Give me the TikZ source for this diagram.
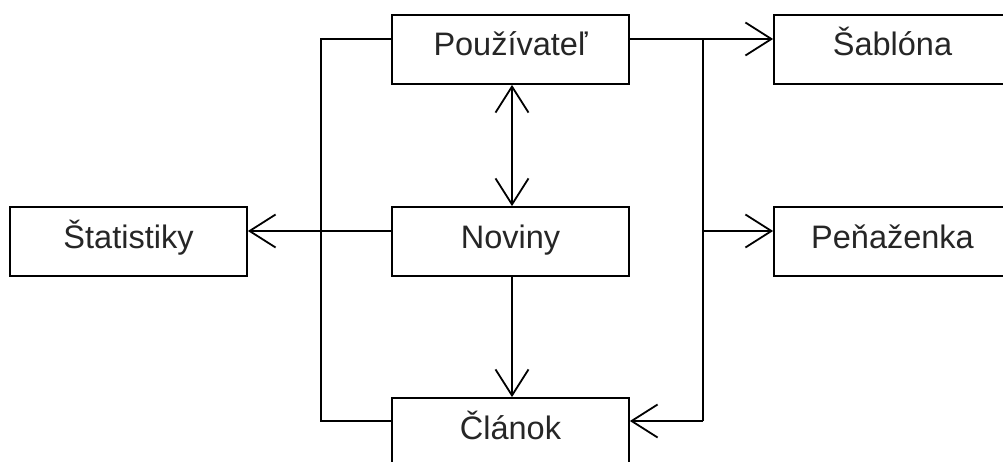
\documentclass[tikz,border=0pt]{standalone}
\usepackage{fontspec}
\setmainfont{Liberation Sans}
\usetikzlibrary{arrows.meta}
\begin{document}
\begin{tikzpicture}[x=1pt,y=-1pt,
  box/.style={draw,line width=1.8pt,minimum width=237pt,minimum height=69pt,inner sep=0pt,
    text height=20pt,text depth=7pt,font=\fontsize{32.5}{38}\selectfont,text=black!85},
  conn/.style={line width=1.8pt},
  arr/.style={conn,-{Straight Barb[length=26pt,width=33pt,line width=1.8pt]}},
  darr/.style={conn,{Straight Barb[length=26pt,width=33pt,line width=1.8pt]}-{Straight Barb[length=26pt,width=33pt,line width=1.8pt]}}]
\clip (0,0) rectangle (1003,462);
\fill[white] (0,0) rectangle (1003,462);
\node[box] (pou) at (510.5,49.5) {Používateľ};
\node[box] (sab) at (892.5,49.5) {Šablóna};
\node[box] (sta) at (128.5,241.5) {Štatistiky};
\node[box] (nov) at (510.5,241.5) {Noviny};
\node[box] (pen) at (892.5,241.5) {Peňaženka};
\node[box] (cla) at (510.5,432.5) {Článok};
\coordinate (ltop) at (321,39);
\coordinate (lbot) at (321,421);
\coordinate (rtop) at (703,39);
\coordinate (rmid) at (703,231);
\coordinate (rbot) at (703,421);
% left rail
\draw[conn] (pou.west |- ltop) -- (ltop) -- (lbot) -- (cla.west |- lbot);
% Noviny -> Statistiky
\draw[arr] (nov.west |- 0,231) -- (sta.east |- 0,231);
% Pouzivatel -> Sablona
\draw[arr] (pou.east |- rtop) -- (sab.west |- rtop);
% right rail
\draw[conn] (rtop) -- (rbot);
\draw[arr] (rmid) -- (pen.west |- rmid);
\draw[arr] (rbot) -- (cla.east |- rbot);
% verticals
\draw[darr] ([xshift=1.5pt]pou.south) -- ([xshift=1.5pt]nov.north);
\draw[arr] ([xshift=1.5pt]nov.south) -- ([xshift=1.5pt]cla.north);
\end{tikzpicture}
\end{document}
